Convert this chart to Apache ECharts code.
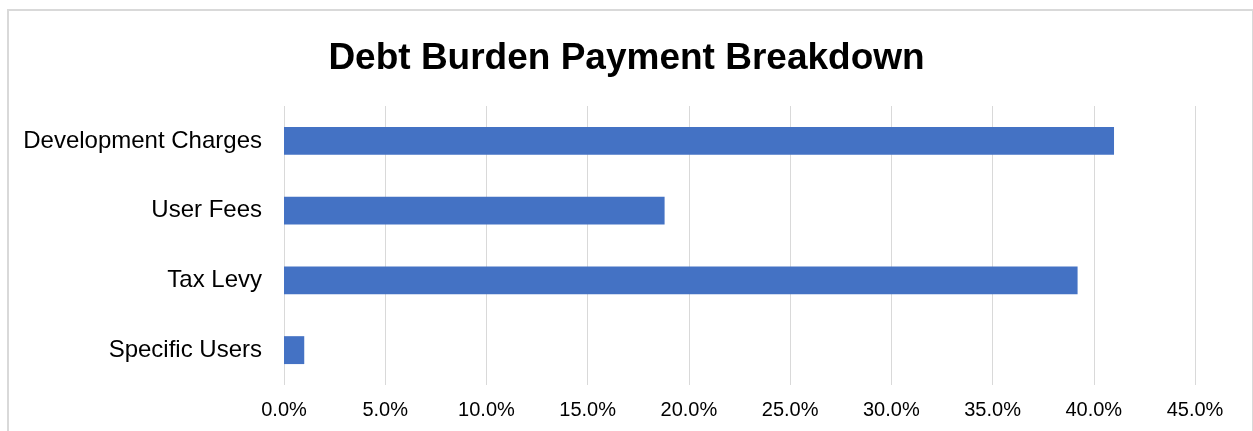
<!DOCTYPE html>
<html lang="en">
<head>
  <meta charset="UTF-8">
  <title>Debt Burden Payment Breakdown</title>
  <style>
    body { margin: 0; background: #fff; }
    #frame {
      position: absolute;
      left: 7px;
      top: 9px;
      width: 1243px;
      height: 440px;
      border: 2px solid #d9d9d9;
      border-bottom: none;
    }
    #main {
      position: absolute;
      left: 0;
      top: 0;
      width: 1253px;
      height: 431px;
    }
  </style>
</head>
<body>
  <div id="frame"></div>
  <div id="main"></div>
  <script src="https://cdn.jsdelivr.net/npm/echarts@6/dist/echarts.min.js"></script>
  <script>
    var categories = ["Specific Users", "Tax Levy", "User Fees", "Development Charges"];
    var shares = [1.0, 39.2, 18.8, 41.0];

    var myChart = echarts.init(document.getElementById("main"));

    var option = {
      animation: false,
      title: {
        text: 'Debt Burden Payment Breakdown',
        left: 'center',
        top: 35,
        textStyle: {
          fontFamily: 'Liberation Sans, Arial, sans-serif',
          fontSize: 37,
          fontWeight: 'bold',
          color: '#000'
        }
      },
      grid: {
        left: 284,
        right: 58,
        top: 106,
        bottom: 46,
        containLabel: false
      },
      xAxis: {
        type: 'value',
        min: 0,
        max: 45,
        interval: 5,
        axisLine: { show: false },
        axisTick: { show: false },
        splitLine: {
          lineStyle: { color: '#d9d9d9', width: 1 }
        },
        axisLabel: {
          margin: 15,
          fontFamily: 'Liberation Sans, Arial, sans-serif',
          fontSize: 20,
          color: '#000',
          formatter: function (v) { return v.toFixed(1) + '%'; }
        }
      },
      yAxis: {
        type: 'category',
        data: categories,
        axisLine: { show: false },
        axisTick: { show: false },
        axisLabel: {
          margin: 22,
          fontFamily: 'Liberation Sans, Arial, sans-serif',
          fontSize: 24,
          color: '#000'
        }
      },
      series: [{
        type: 'bar',
        data: shares,
        barCategoryGap: '60%',
        itemStyle: { color: '#4472c4' }
      }]
    };

    myChart.setOption(option);
  </script>
</body>
</html>
